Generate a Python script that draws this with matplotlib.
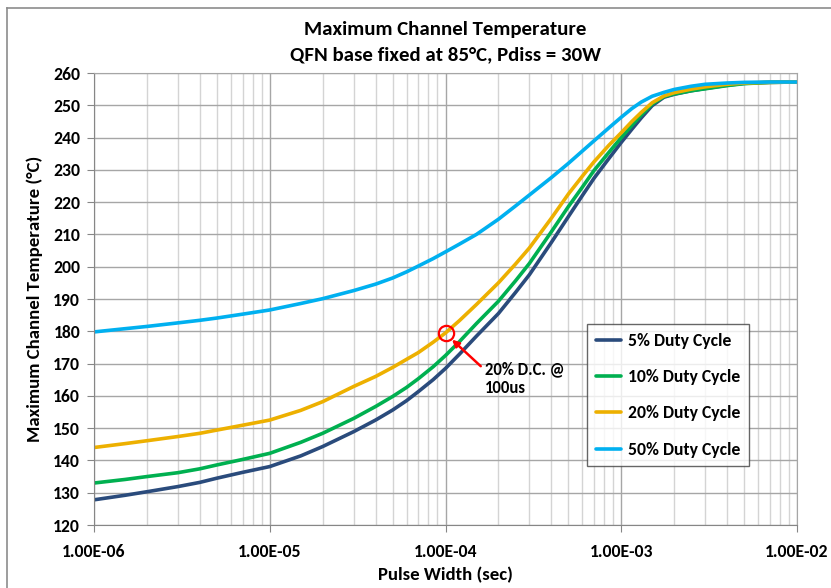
import numpy as np
import matplotlib
matplotlib.use("Agg")
from matplotlib import pyplot as plt
from matplotlib import font_manager as fm
from matplotlib.lines import Line2D
from matplotlib.ticker import FixedLocator, NullFormatter


def pick_font(cands):
    # first family that really has a bold face installed
    for name in cands:
        try:
            path = fm.findfont(fm.FontProperties(family=name, weight='bold'),
                               fallback_to_default=False)
        except Exception:
            continue
        if 'bold' in path.lower():
            return name
    return 'DejaVu Sans'


font = pick_font(['Carlito', 'Lato', 'Open Sans', 'Noto Sans', 'Liberation Sans'])
plt.rcParams['font.family'] = [font, 'DejaVu Sans']
plt.rcParams['font.weight'] = 'bold'

# pulse width (sec) and channel temperature (C)
pulse = [1e-6, 1.5e-6, 2e-6, 3e-6, 4e-6, 5e-6, 7e-6, 1e-5, 1.5e-5, 2e-5, 3e-5, 4e-5,
         5e-5, 6e-5, 7e-5, 8.5e-5, 1e-4, 1.2e-4, 1.5e-4, 2e-4, 2.5e-4, 3e-4, 4e-4, 5e-4,
         6e-4, 7e-4, 8.5e-4, 1e-3, 1.15e-3, 1.3e-3, 1.5e-3, 1.75e-3, 2e-3, 2.5e-3, 3e-3,
         4e-3, 5e-3, 7e-3, 1e-2]
duty5 = [127.8, 129.2, 130.3, 131.9, 133.2, 134.5, 136.3, 138.1, 141.4, 144.3, 148.9, 152.5,
         155.6, 158.5, 161.3, 165.0, 168.5, 172.9, 178.5, 185.5, 192.0, 197.5, 207.5, 215.5,
         222.0, 227.4, 233.5, 238.5, 242.6, 246.1, 249.9, 252.5, 253.4, 254.5, 255.2,
         256.2, 256.8, 257.1, 257.2]
duty10 = [133.0, 134.1, 135.0, 136.2, 137.4, 138.6, 140.3, 142.2, 145.6, 148.4, 153.0, 156.7,
          159.8, 162.6, 165.3, 169.0, 172.5, 176.8, 182.4, 189.3, 195.6, 201.0, 210.8, 218.6,
          224.6, 229.8, 235.4, 240.0, 243.8, 247.0, 250.4, 252.7, 253.5, 254.5, 255.1,
          256.1, 256.7, 257.1, 257.2]
duty20 = [144.0, 145.2, 146.1, 147.4, 148.4, 149.4, 150.9, 152.5, 155.5, 158.2, 162.9, 166.0,
          168.8, 171.3, 173.4, 176.6, 179.5, 183.3, 188.3, 195.0, 200.8, 205.8, 215.0, 222.5,
          228.0, 232.5, 237.6, 241.5, 245.0, 247.8, 250.8, 252.9, 253.9, 255.0, 255.7,
          256.5, 256.9, 257.1, 257.2]
duty50 = [179.8, 180.8, 181.5, 182.6, 183.4, 184.1, 185.3, 186.6, 188.6, 190.1, 192.6, 194.6,
          196.5, 198.4, 200.2, 202.5, 204.6, 207.0, 210.0, 214.7, 218.8, 222.2, 227.6, 232.0,
          235.8, 239.0, 243.0, 246.3, 249.0, 251.0, 252.8, 254.0, 254.9, 255.9, 256.5,
          256.9, 257.1, 257.2, 257.2]

series = [("5% Duty Cycle", duty5, "#2A4B7C"),
          ("10% Duty Cycle", duty10, "#00B050"),
          ("20% Duty Cycle", duty20, "#EDB000"),
          ("50% Duty Cycle", duty50, "#00B0F0")]

xticks = [1e-6, 1e-5, 1e-4, 1e-3, 1e-2]
xticklabels = ["1.00E-06", "1.00E-05", "1.00E-04", "1.00E-03", "1.00E-02"]
yticks = list(range(120, 261, 10))

fig = plt.figure(figsize=(8.31, 5.88), dpi=100)
ax = fig.add_axes([94 / 831, 1 - 525 / 588, (797 - 94) / 831, (525 - 73) / 588])

for name, vals, col in series:
    ax.plot(pulse, vals, color=col, lw=2.6, label=name, solid_capstyle='round',
            solid_joinstyle='round')

ax.set_xscale('log')
ax.set_xlim(1e-6, 1e-2)
ax.set_ylim(120, 260)
ax.set_xticks(xticks)
ax.set_xticklabels(xticklabels)
ax.set_yticks(yticks)
minors = [m * 10.0 ** e for e in range(-6, -2) for m in range(2, 10)]
ax.xaxis.set_minor_locator(FixedLocator(minors))
ax.xaxis.set_minor_formatter(NullFormatter())

ax.grid(True, which='major', axis='both', color='#A6A6A6', lw=1.0)
ax.grid(True, which='minor', axis='x', color='#D4D4D4', lw=1.0)
ax.set_axisbelow(True)
ax.tick_params(axis='both', which='major', direction='out', length=5, color='#868686',
               labelsize=12.8, pad=5)
ax.tick_params(axis='x', which='minor', length=0)
ax.tick_params(axis='x', which='major', pad=9)
for s in ax.spines.values():
    s.set_color('#A6A6A6')
ax.spines['left'].set_color('#868686')
ax.spines['bottom'].set_color('#868686')
for lab in ax.get_xticklabels() + ax.get_yticklabels():
    lab.set_fontweight('bold')

ax.set_xlabel("Pulse Width (sec)", fontsize=13.5, fontweight='bold', labelpad=5)
ax.set_ylabel("Maximum Channel Temperature (°C)", fontsize=13.5, fontweight='bold',
              labelpad=7)
fig.text(445 / 831, 1 - 30 / 588, "Maximum Channel Temperature", ha='center', va='center',
         fontsize=15, fontweight='bold')
fig.text(445 / 831, 1 - 55 / 588, "QFN base fixed at 85°C, Pdiss = 30W", ha='center',
         va='center', fontsize=15, fontweight='bold')

# highlighted point for 20% duty cycle at 100us
ax.plot([1e-4], [179.5], marker='o', ms=11, mfc='none', mec='#FF0000', mew=1.6)
ax.annotate("", xy=(1.06e-4, 178.0), xytext=(1.63e-4, 168.6),
            arrowprops=dict(arrowstyle='-|>', color='#FF0000', lw=1.8, mutation_scale=10))
ax.text(1.68e-4, 170.6, "20% D.C. @\n100us", ha='left', va='top', fontsize=12,
        fontweight='bold', linespacing=1.2)

leg = ax.legend(loc='upper left', bbox_to_anchor=((587 - 94) / 703, (525 - 324) / 452),
                borderaxespad=0, fontsize=12.7, frameon=True, fancybox=False,
                handlelength=1.4, labelspacing=1.15, borderpad=0.5, handletextpad=0.4)
leg.get_frame().set_edgecolor('#404040')
leg.get_frame().set_linewidth(1.0)
for t in leg.get_texts():
    t.set_fontweight('bold')

# chart area border
fig.add_artist(Line2D([7 / 831, 7 / 831], [0, 1 - 8 / 588], color='#8C8C8C', lw=1.2))
fig.add_artist(Line2D([7 / 831, 1], [1 - 8 / 588, 1 - 8 / 588], color='#8C8C8C', lw=1.2))

fig.savefig("out.png", dpi=100)
